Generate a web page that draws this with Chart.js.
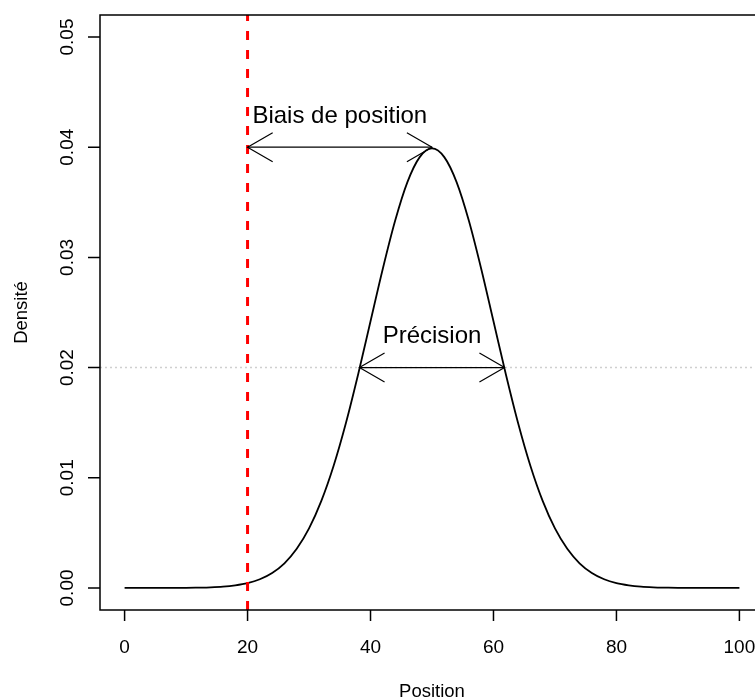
<!DOCTYPE html>
<html>
<head>
<meta charset="utf-8">
<script src="https://cdn.jsdelivr.net/npm/chart.js@4"></script>
<style>
  html, body { margin: 0; padding: 0; background: #fff; overflow: hidden; }
  #wrap { width: 770px; height: 699px; }
</style>
</head>
<body>
<div id="wrap"><canvas id="densite" width="770" height="699"></canvas></div>
<script>
// courbe de densité, lue tous les 2 points de position
const positions = [0, 2, 4, 6, 8, 10, 12, 14, 16, 18, 20, 22, 24, 26, 28, 30, 32, 34, 36, 38, 40,
                   42, 44, 46, 48, 50, 52, 54, 56, 58, 60, 62, 64, 66, 68, 70, 72, 74, 76, 78, 80,
                   82, 84, 86, 88, 90, 92, 94, 96, 98, 100];
const densites = [0.00000, 0.00000, 0.00000, 0.00000, 0.00001, 0.00001, 0.00003, 0.00006, 0.00012, 0.00024,
                  0.00044, 0.00079, 0.00136, 0.00224, 0.00355, 0.00540, 0.00790, 0.01109, 0.01497, 0.01942,
                  0.02420, 0.02897, 0.03332, 0.03683, 0.03910, 0.03989, 0.03910, 0.03683, 0.03332, 0.02897,
                  0.02420, 0.01942, 0.01497, 0.01109, 0.00790, 0.00540, 0.00355, 0.00224, 0.00136, 0.00079,
                  0.00044, 0.00024, 0.00012, 0.00006, 0.00003, 0.00001, 0.00001, 0.00000, 0.00000, 0.00000,
                  0.00000];

const xTicks = [0, 20, 40, 60, 80, 100];
const yTicks = [0, 0.01, 0.02, 0.03, 0.04, 0.05];
const yTickLabels = ["0.00", "0.01", "0.02", "0.03", "0.04", "0.05"];
const xRange = [-4, 104];
const yRange = [-0.002, 0.052];

const cible = 20;                 // position visée (ligne rouge)
const demiHauteur = 0.02;         // niveau de la ligne pointillée
const biaisX = [20, 50];
const biaisY = 0.04;
const precisionX = [38.2, 61.8];
const precisionY = 0.02;
const etiquettes = [
  { texte: "Biais de position", x: 35, y: 0.043 },
  { texte: "Précision", x: 50, y: 0.023 }
];

const police = '"Liberation Sans", Arial, Helvetica, sans-serif';

function segment(xs, y) {
  return xs.map(x => ({ x: x, y: y }));
}

// axes, cadre, flèches et textes façon graphique R
const decorR = {
  id: "decorR",
  afterDatasetsDraw(chart) {
    const ctx = chart.ctx;
    const a = chart.chartArea;
    const sx = chart.scales.x, sy = chart.scales.y;
    ctx.save();
    ctx.strokeStyle = "#000";
    ctx.fillStyle = "#000";
    ctx.lineWidth = 1.5;

    // cadre
    ctx.strokeRect(a.left, a.top, a.right - a.left, a.bottom - a.top);

    // axe x
    ctx.beginPath();
    xTicks.forEach(t => {
      const px = sx.getPixelForValue(t);
      ctx.moveTo(px, a.bottom);
      ctx.lineTo(px, a.bottom + 11);
    });
    ctx.stroke();
    ctx.font = "19px " + police;
    ctx.textAlign = "center";
    ctx.textBaseline = "alphabetic";
    xTicks.forEach(t => ctx.fillText(String(t), sx.getPixelForValue(t), 653));

    // axe y
    ctx.beginPath();
    yTicks.forEach(t => {
      const py = sy.getPixelForValue(t);
      ctx.moveTo(a.left, py);
      ctx.lineTo(a.left - 12, py);
    });
    ctx.stroke();
    yTicks.forEach((t, i) => {
      ctx.save();
      ctx.translate(73, sy.getPixelForValue(t));
      ctx.rotate(-Math.PI / 2);
      ctx.fillText(yTickLabels[i], 0, 0);
      ctx.restore();
    });

    // titres des axes
    ctx.font = "18.5px " + police;
    ctx.fillText("Position", (a.left + a.right) / 2, 697);
    ctx.save();
    ctx.translate(26.5, (a.top + a.bottom) / 2);
    ctx.rotate(-Math.PI / 2);
    ctx.fillText("Densité", 0, 0);
    ctx.restore();

    // pointes de flèches ouvertes aux deux bouts
    const tete = (x0, y0, x1, y1) => {
      const ang = Math.atan2(y1 - y0, x1 - x0);
      const L = 29, d = Math.PI / 6;
      ctx.beginPath();
      ctx.moveTo(x1 + L * Math.cos(ang + Math.PI - d), y1 + L * Math.sin(ang + Math.PI - d));
      ctx.lineTo(x1, y1);
      ctx.lineTo(x1 + L * Math.cos(ang + Math.PI + d), y1 + L * Math.sin(ang + Math.PI + d));
      ctx.stroke();
    };
    ctx.lineWidth = 1.2;
    [[biaisX, biaisY], [precisionX, precisionY]].forEach(([xs, y]) => {
      const p0 = sx.getPixelForValue(xs[0]), p1 = sx.getPixelForValue(xs[1]);
      const py = sy.getPixelForValue(y);
      tete(p0, py, p1, py);
      tete(p1, py, p0, py);
    });

    // textes
    ctx.font = "24px " + police;
    etiquettes.forEach(e => {
      ctx.fillText(e.texte, sx.getPixelForValue(e.x), sy.getPixelForValue(e.y) + 24 * 0.358);
    });
    ctx.restore();
  }
};

new Chart(document.getElementById("densite"), {
  type: "scatter",
  data: {
    datasets: [
      { data: segment(biaisX, biaisY), showLine: true, borderColor: "#000", borderWidth: 1.2, pointRadius: 0, order: 0 },
      { data: segment(precisionX, precisionY), showLine: true, borderColor: "#000", borderWidth: 1.2, pointRadius: 0, order: 0 },
      { data: [{ x: cible, y: yRange[0] }, { x: cible, y: yRange[1] }], showLine: true,
        borderColor: "#ff0000", borderWidth: 3, borderDash: [9, 10], pointRadius: 0, order: 1 },
      { data: segment(xRange, demiHauteur), showLine: true,
        borderColor: "#cfcfcf", borderWidth: 1.5, borderDash: [2, 3], pointRadius: 0, order: 2 },
      { data: positions.map((x, i) => ({ x: x, y: densites[i] })), showLine: true,
        borderColor: "#000", borderWidth: 1.8, pointRadius: 0, cubicInterpolationMode: "monotone", order: 3 }
    ]
  },
  options: {
    responsive: false,
    animation: false,
    devicePixelRatio: 1,
    layout: { padding: { left: 100, top: 15, right: 6, bottom: 89 } },
    plugins: { legend: { display: false }, tooltip: { enabled: false } },
    scales: {
      x: { type: "linear", min: xRange[0], max: xRange[1], display: false },
      y: { type: "linear", min: yRange[0], max: yRange[1], display: false }
    }
  },
  plugins: [decorR]
});
</script>
</body>
</html>
